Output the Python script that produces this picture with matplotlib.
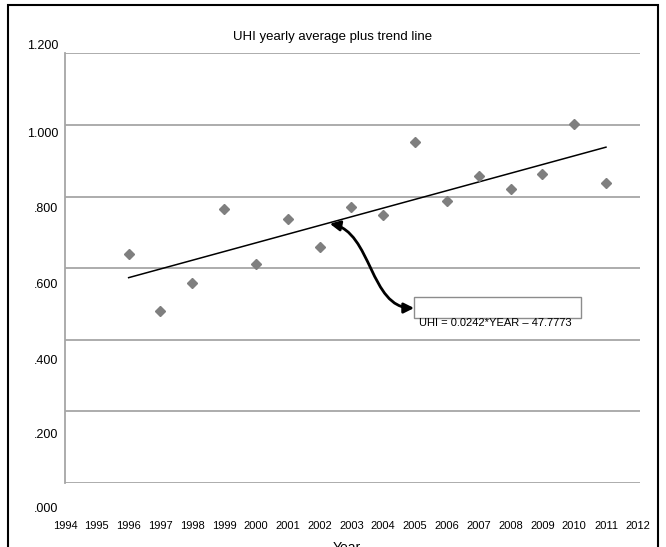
import numpy as np
import matplotlib
matplotlib.use("Agg")
import matplotlib.pyplot as plt
from matplotlib.patches import Rectangle, FancyArrowPatch
from matplotlib.path import Path
from matplotlib.transforms import ScaledTranslation

plt.rcParams['font.family'] = ['Liberation Sans', 'DejaVu Sans']

# yearly UHI averages
years = [1996, 1997, 1998, 1999, 2000, 2001, 2002, 2003,
         2004, 2005, 2006, 2007, 2008, 2009, 2010, 2011]
uhi = [0.639, 0.479, 0.557, 0.766, 0.610, 0.737, 0.658, 0.771,
       0.747, 0.953, 0.787, 0.858, 0.822, 0.862, 1.004, 0.837]

# trend line as drawn (ends at first and last year)
trend_years = [1996, 2011]
trend_vals = [0.573, 0.938]

y_ticks = [0.0, 0.2, 0.4, 0.6, 0.8, 1.0, 1.2]
y_labels = ['.000', '.200', '.400', '.600', '.800', '1.000', '1.200']
x_ticks = list(range(1994, 2013))
equation = "UHI = 0.0242*YEAR \u2013 47.7773"

fig = plt.figure(figsize=(6.66, 5.47), dpi=100)
ax = fig.add_axes([0.0976, 0.1179, 0.8634, 0.7843])

ax.set_xlim(1994, 2012.07)
ax.set_ylim(0, 1.2)

# gray grid lines at each tick value
for v in y_ticks:
    ax.axhline(v, color='#a6a6a6', lw=1.3, zorder=1)

ax.plot(years, uhi, linestyle='none', marker='D', markersize=5,
        color='#7f7f7f', zorder=3)
ax.plot(trend_years, trend_vals, color='black', lw=1.1, zorder=2)

# label box + equation
ax.add_patch(Rectangle((2004.96, 0.459), 5.24, 0.061, facecolor='white',
                       edgecolor='#8c8c8c', lw=1.0, zorder=4))
ax.text(2007.52, 0.461, equation, ha='center', va='top', fontsize=8,
        zorder=5)

# curved double arrow from trend line to the box
verts = [(2002.32, 0.724), (2003.64, 0.701), (2003.58, 0.488), (2004.97, 0.488)]
codes = [Path.MOVETO, Path.CURVE4, Path.CURVE4, Path.CURVE4]
arr = FancyArrowPatch(path=Path(verts, codes), arrowstyle='<|-|>,head_length=6,head_width=3',
                      color='black', lw=2.0, zorder=6)
ax.add_patch(arr)

for s in ['top', 'right', 'bottom']:
    ax.spines[s].set_visible(False)
ax.spines['left'].set_color('#a6a6a6')
ax.spines['left'].set_linewidth(1.3)

ax.set_xticks(x_ticks)
ax.set_xticklabels([str(x) for x in x_ticks], fontsize=8)
ax.tick_params(axis='x', length=0, pad=28)
ax.set_yticks(y_ticks)
ax.set_yticklabels(y_labels, fontsize=9)
ax.tick_params(axis='y', length=0, pad=5)

# the scanned labels sit off their grid lines; shift them to match
label_shift_px = [24.5, 22, 19.5, 15, 10.5, 8, -8.5]
for lab, dy in zip(ax.get_yticklabels(), label_shift_px):
    lab.set_transform(lab.get_transform() + ScaledTranslation(0, -dy / 100, fig.dpi_scale_trans))

fig.text(0.5, 1 - 37 / 547, "UHI yearly average plus trend line", ha='center',
         va='center', fontsize=9.5)
fig.text(0.521, 1 - 541 / 547, "Year", ha='center', va='top', fontsize=10)

# outer frame of the scanned figure
fig.patches.append(Rectangle((8 / 666, -0.05), 650 / 666, 1 - 5 / 547 + 0.05,
                             transform=fig.transFigure, fill=False,
                             edgecolor='black', lw=1.5))

fig.savefig("out.png", dpi=100)
